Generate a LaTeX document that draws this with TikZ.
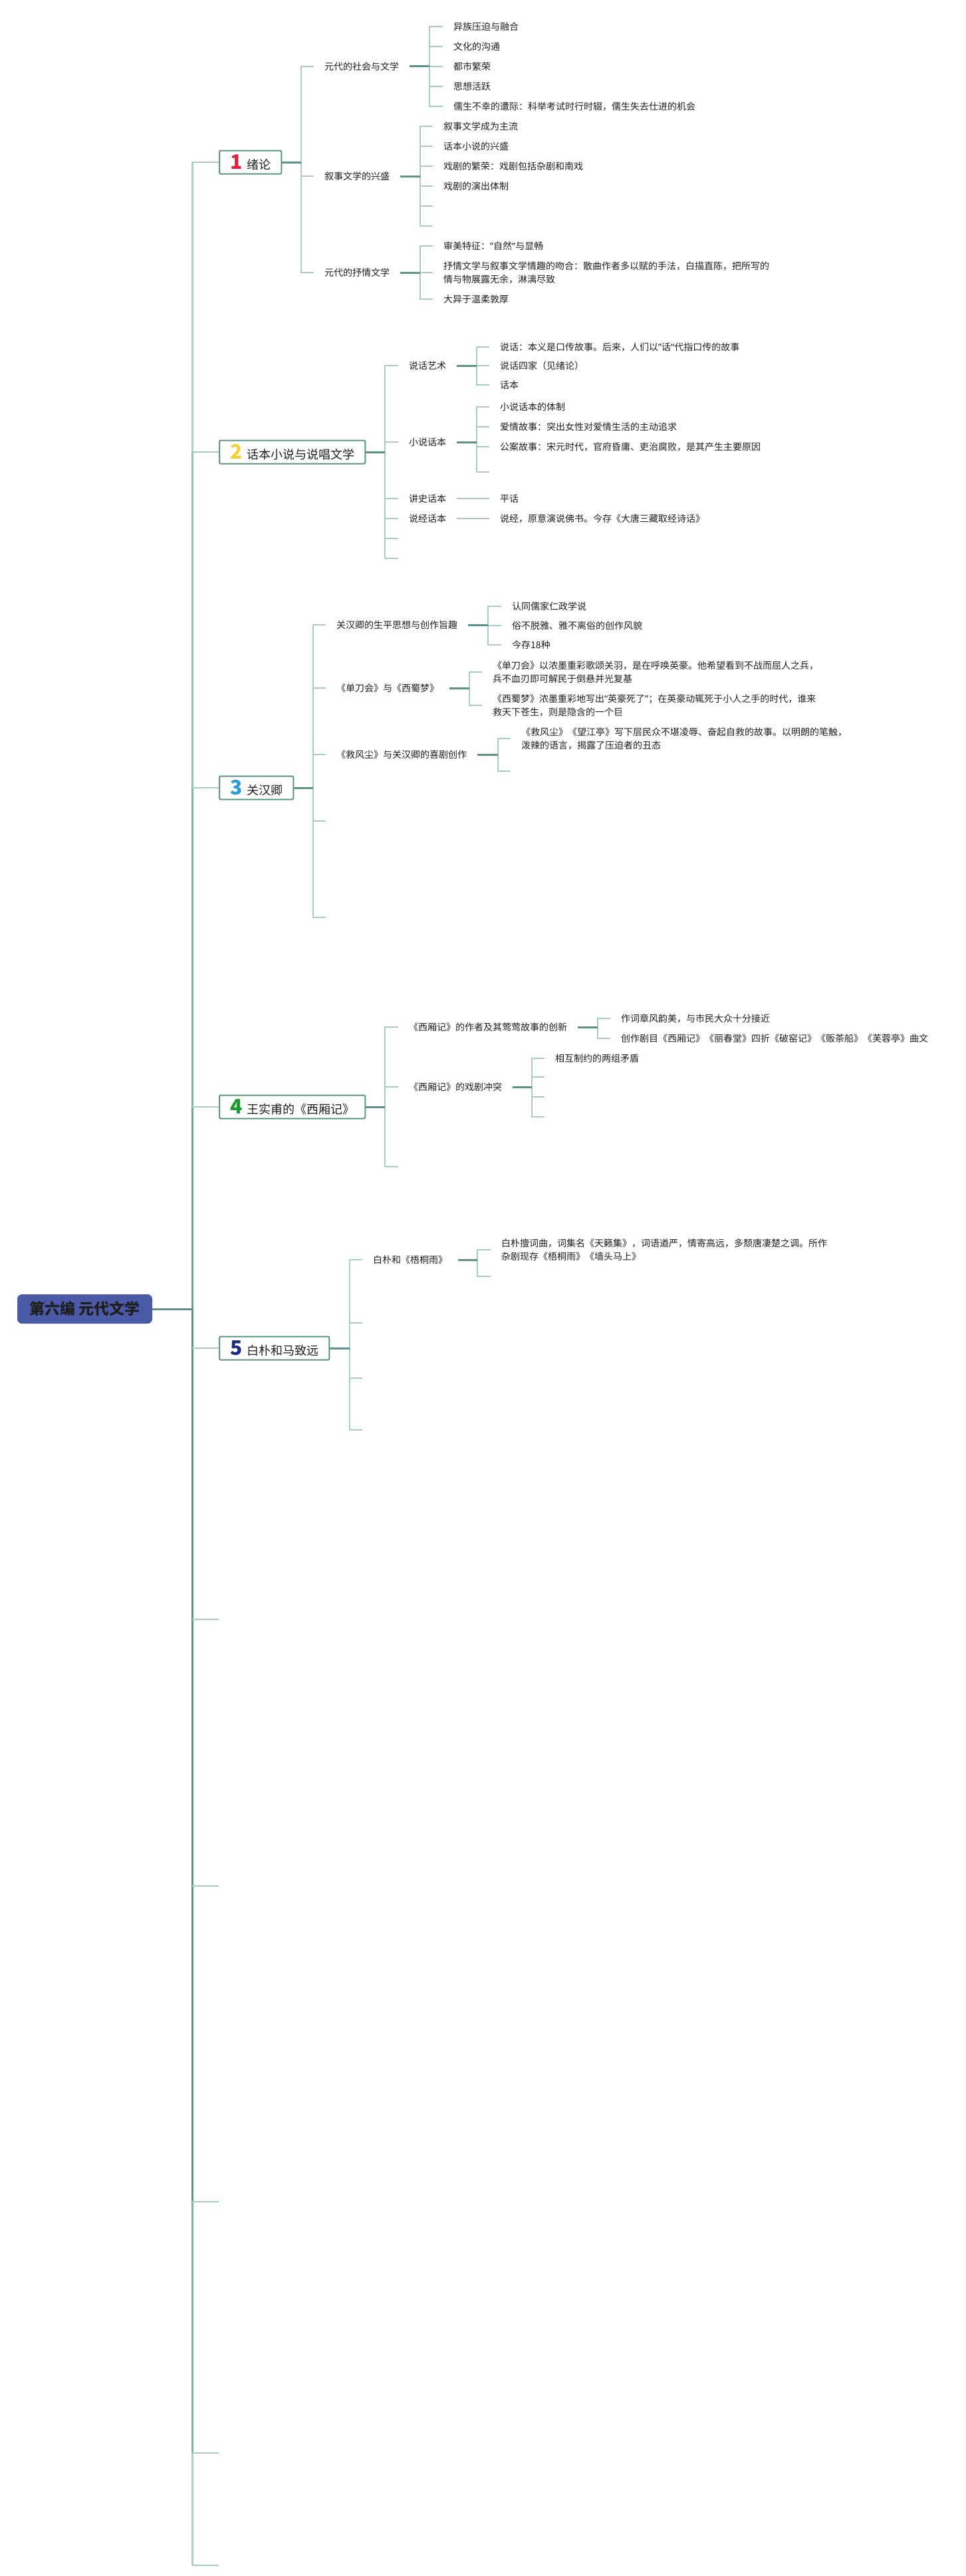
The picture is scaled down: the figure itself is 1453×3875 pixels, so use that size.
\documentclass[tikz,border=0pt]{standalone}
\usepackage{fontspec}
\setmainfont{Noto Sans CJK SC}
\newfontfamily\qfont{Noto Sans}
\usepackage{xcolor}
\usepackage{tikz}

\definecolor{teald}{HTML}{5E9488}
\definecolor{teall}{HTML}{A9CCC3}
\definecolor{tr1}{HTML}{6EA396}
\definecolor{tr2}{HTML}{83B1A6}
\definecolor{tr3}{HTML}{97BEB4}
\definecolor{tr4}{HTML}{ACCEC6}
\definecolor{ink}{HTML}{1F1F1F}
\definecolor{rootc}{HTML}{4A5AA6}
\definecolor{no1}{HTML}{E2213D}
\definecolor{no2}{HTML}{F2D03B}
\definecolor{no3}{HTML}{2C9BDB}
\definecolor{no4}{HTML}{1C9A2C}
\definecolor{no5}{HTML}{1E2B86}

\newcommand{\topicno}[2]{{\fontsize{30}{30}\selectfont\bfseries\color{#1}#2}\hspace{7pt}}
\newcommand{\qopen}{{\qfont “}}
\newcommand{\qclose}{{\qfont ”}}

\begin{document}
\begin{tikzpicture}[x=1pt, y=-1pt,
  br/.style={draw=teald, line width=3pt},
  tk/.style={draw=teall, line width=2pt, to path={|- (\tikztotarget)}},
  tl/.style={draw=teall, line width=2pt},
  trk/.style={line width=3pt},
  lbl/.style={anchor=west, inner xsep=16pt, inner ysep=0pt, text=ink, font=\fontsize{14}{20}\selectfont, align=left},
  topic/.style={anchor=west, draw=teald, line width=2pt, rounded corners=2pt, fill=white, inner xsep=16pt, inner ysep=0pt, minimum height=35pt, text=ink, font=\fontsize{18}{20}\selectfont},
  root/.style={fill=rootc, rounded corners=7pt, minimum width=203pt, minimum height=44pt, text=ink, font=\fontsize{23}{23}\selectfont\bfseries}]
\path[use as bounding box, fill=white] (0,0) rectangle (1453,3875);

\node[root] (root) at (127.5,1969) {第六编 元代文学};
\coordinate (tj) at (289,1969);

\node[topic] (n1) at (329,244) {\topicno{no1}{1}绪论};
\node[topic] (n2) at (329,680) {\topicno{no2}{2}话本小说与说唱文学};
\node[topic] (n3) at (329,1185) {\topicno{no3}{3}关汉卿};
\node[topic] (n4) at (329,1665) {\topicno{no4}{4}王实甫的《西厢记》};
\node[topic] (n5) at (329,2028) {\topicno{no5}{5}白朴和马致远};
\coordinate (x6) at (329,2436);
\coordinate (x7) at (329,2837);
\coordinate (x8) at (329,3312);
\coordinate (x9) at (329,3690);
\coordinate (x10) at (329,3859);

% 1 绪论
\coordinate (j1) at (453,244);
\node[lbl] (a1) at (472,100) {元代的社会与文学};
\node[lbl] (a2) at (472,265) {叙事文学的兴盛};
\node[lbl] (a3) at (472,410) {元代的抒情文学};
\coordinate (ja1) at (646,100);
\coordinate (ja2) at (632,265);
\coordinate (ja3) at (632,410);
\node[lbl] (a11) at (666,40) {异族压迫与融合};
\node[lbl] (a12) at (666,70) {文化的沟通};
\node[lbl] (a13) at (666,100) {都市繁荣};
\node[lbl] (a14) at (666,130) {思想活跃};
\node[lbl] (a15) at (666,160) {儒生不幸的遭际：科举考试时行时辍，儒生失去仕进的机会};
\node[lbl] (a21) at (651,190) {叙事文学成为主流};
\node[lbl] (a22) at (651,220) {话本小说的兴盛};
\node[lbl] (a23) at (651,250) {戏剧的繁荣：戏剧包括杂剧和南戏};
\node[lbl] (a24) at (651,280) {戏剧的演出体制};
\coordinate (a25) at (651,310);
\coordinate (a26) at (651,340);
\node[lbl] (a31) at (651,370) {审美特征：\qclose 自然\qopen 与显畅};
\node[lbl] (a32) at (651,410) {抒情文学与叙事文学情趣的吻合：散曲作者多以赋的手法，白描直陈，把所写的\\情与物展露无余，淋漓尽致};
\node[lbl] (a33) at (651,450) {大异于温柔敦厚};

% 2 话本小说与说唱文学
\coordinate (j2) at (579,680);
\node[lbl] (b1) at (599,550) {说话艺术};
\node[lbl] (b2) at (599,665) {小说话本};
\node[lbl] (b3) at (599,750) {讲史话本};
\node[lbl] (b4) at (599,780) {说经话本};
\coordinate (b5) at (599,810);
\coordinate (b6) at (599,840);
\coordinate (jb1) at (717,550);
\coordinate (jb2) at (717,665);
\node[lbl] (b11) at (736,522) {说话：本义是口传故事。后来，人们以\qclose 话\qopen 代指口传的故事};
\node[lbl] (b12) at (736,550) {说话四家（见绪论）};
\node[lbl] (b13) at (736,579) {话本};
\node[lbl] (b21) at (736,612) {小说话本的体制};
\node[lbl] (b22) at (736,642) {爱情故事：突出女性对爱情生活的主动追求};
\node[lbl] (b23) at (736,672) {公案故事：宋元时代，官府昏庸、吏治腐败，是其产生主要原因};
\coordinate (b24) at (736,710);
\node[lbl] (b31) at (736,750) {平话};
\node[lbl] (b41) at (736,780) {说经，原意演说佛书。今存《大唐三藏取经诗话》};

% 3 关汉卿
\coordinate (j3) at (471,1185);
\node[lbl] (c1) at (490,940) {关汉卿的生平思想与创作旨趣};
\node[lbl] (c2) at (490,1035) {《单刀会》与《西蜀梦》};
\node[lbl] (c3) at (490,1135) {《救风尘》与关汉卿的喜剧创作};
\coordinate (c4) at (490,1235);
\coordinate (c5) at (490,1380);
\coordinate (jc1) at (734,940);
\coordinate (jc2) at (706,1035);
\coordinate (jc3) at (749,1135);
\node[lbl] (c11) at (754,912) {认同儒家仁政学说};
\node[lbl] (c12) at (754,941) {俗不脱雅、雅不离俗的创作风貌};
\node[lbl] (c13) at (754,970) {今存18种};
\node[lbl] (c21) at (725,1011) {《单刀会》以浓墨重彩歌颂关羽，是在呼唤英豪。他希望看到不战而屈人之兵，\\兵不血刃即可解民于倒悬并光复基};
\node[lbl] (c22) at (725,1061) {《西蜀梦》浓墨重彩地写出\qopen 英豪死了\qclose ；在英豪动辄死于小人之手的时代，谁来\\救天下苍生，则是隐含的一个巨};
\node[lbl] (c31) at (768,1111) {《救风尘》《望江亭》写下层民众不堪凌辱、奋起自救的故事。以明朗的笔触，\\泼辣的语言，揭露了压迫者的丑态};
\coordinate (c32) at (768,1160);

% 4 王实甫的《西厢记》
\coordinate (j4) at (579,1665);
\node[lbl] (d1) at (599,1545) {《西厢记》的作者及其莺莺故事的创新};
\node[lbl] (d2) at (599,1635) {《西厢记》的戏剧冲突};
\coordinate (d3) at (599,1755);
\coordinate (jd1) at (899,1545);
\coordinate (jd2) at (800,1635);
\node[lbl] (d11) at (918,1532) {作词章风韵美，与市民大众十分接近};
\node[lbl] (d12) at (918,1562) {创作剧目《西厢记》《丽春堂》四折《破窑记》《贩茶船》《芙蓉亭》曲文};
\node[lbl] (d21) at (819,1592) {相互制约的两组矛盾};
\coordinate (d22) at (819,1620);
\coordinate (d23) at (819,1650);
\coordinate (d24) at (819,1680);

% 5 白朴和马致远
\coordinate (j5) at (526,2028);
\node[lbl] (e1) at (545,1895) {白朴和《梧桐雨》};
\coordinate (e2) at (545,1990);
\coordinate (e3) at (545,2073);
\coordinate (e4) at (545,2151);
\coordinate (je1) at (718,1895);
\node[lbl] (e11) at (738,1880) {白朴擅词曲，词集名《天籁集》，词语遒严，情寄高远，多颓唐凄楚之调。所作\\杂剧现存《梧桐雨》《墙头马上》};
\coordinate (e12) at (738,1920);

% trunk: far ends first, the dark part next to the root on top
\draw[trk, draw=tr4] (tj) -- (tj |- n1);
\draw[trk, draw=tr4] (tj) -- (tj |- x10);
\draw[trk, draw=tr3] (tj) -- (tj |- n2);
\draw[trk, draw=tr2] (tj) -- (tj |- x9);
\draw[trk, draw=tr2] (tj) -- (tj |- n3);
\draw[trk, draw=teald] (tj) -- (tj |- x8);
\draw[trk, draw=tr1] (tj) -- (tj |- n4);
\draw[trk, draw=teald] (tj) -- (tj |- n5);
\draw[br] (root) -- (tj);
\path
(tj |- n1) edge[tk] (n1)
(tj |- n2) edge[tk] (n2)
(tj |- n3) edge[tk] (n3)
(tj |- n4) edge[tk] (n4)
(tj |- n5) edge[tk] (n5)
(tj |- x6) edge[tk] (x6)
(tj |- x7) edge[tk] (x7)
(tj |- x8) edge[tk] (x8)
(tj |- x9) edge[tk] (x9)
(tj |- x10) edge[tk] (x10);

\path
(j1) edge[tk] (a1) edge[tk] (a2) edge[tk] (a3)
(ja1) edge[tk] (a11) edge[tk] (a12) edge[tk] (a13) edge[tk] (a14) edge[tk] (a15)
(ja2) edge[tk] (a21) edge[tk] (a22) edge[tk] (a23) edge[tk] (a24) edge[tk] (a25) edge[tk] (a26)
(ja3) edge[tk] (a31) edge[tk] (a32) edge[tk] (a33)

(j2) edge[tk] (b1) edge[tk] (b2) edge[tk] (b3) edge[tk] (b4) edge[tk] (b5) edge[tk] (b6)
(jb1) edge[tk] (b11) edge[tk] (b12) edge[tk] (b13)
(jb2) edge[tk] (b21) edge[tk] (b22) edge[tk] (b23) edge[tk] (b24)
(b3) edge[tl] (b31)
(b4) edge[tl] (b41)

(j3) edge[tk] (c1) edge[tk] (c2) edge[tk] (c3) edge[tk] (c4) edge[tk] (c5)
(jc1) edge[tk] (c11) edge[tk] (c12) edge[tk] (c13)
(jc2) edge[tk] (c21) edge[tk] (c22)
(jc3) edge[tk] (c31) edge[tk] (c32)

(j4) edge[tk] (d1) edge[tk] (d2) edge[tk] (d3)
(jd1) edge[tk] (d11) edge[tk] (d12)
(jd2) edge[tk] (d21) edge[tk] (d22) edge[tk] (d23) edge[tk] (d24)

(j5) edge[tk] (e1) edge[tk] (e2) edge[tk] (e3) edge[tk] (e4)
(je1) edge[tk] (e11) edge[tk] (e12);

\path
(n1) edge[br] (j1)
(n2) edge[br] (j2)
(n3) edge[br] (j3)
(n4) edge[br] (j4)
(n5) edge[br] (j5)
(a1) edge[br] (ja1)
(a2) edge[br] (ja2)
(a3) edge[br] (ja3)
(b1) edge[br] (jb1)
(b2) edge[br] (jb2)
(c1) edge[br] (jc1)
(c2) edge[br] (jc2)
(c3) edge[br] (jc3)
(d1) edge[br] (jd1)
(d2) edge[br] (jd2)
(e1) edge[br] (je1);
\end{tikzpicture}
\end{document}
